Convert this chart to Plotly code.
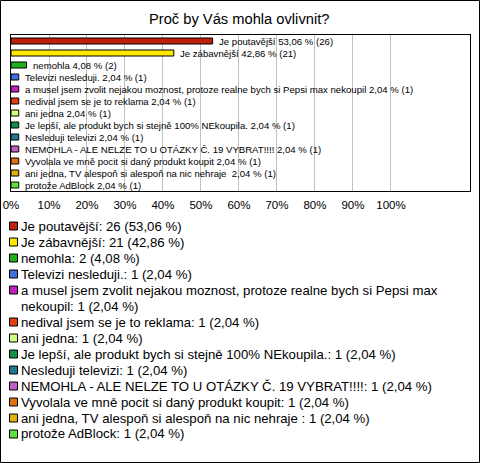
import textwrap
import plotly.graph_objects as go

title = "Proč by Vás mohla ovlivnit?"
categories = [
    "Je poutavější",
    "Je zábavnější",
    "nemohla",
    "Televizi nesleduji.",
    "a musel jsem zvolit nejakou moznost, protoze realne bych si Pepsi max nekoupil",
    "nedival jsem se je to reklama",
    "ani jedna",
    "Je lepší, ale produkt bych si stejně 100% NEkoupila.",
    "Nesleduji televizi",
    "NEMOHLA - ALE NELZE TO U OTÁZKY Č. 19 VYBRAT!!!!",
    "Vyvolala ve mně pocit si daný produkt koupit",
    "ani jedna, TV alespoň si alespoň na nic nehraje ",
    "protože AdBlock",
]
counts = [26, 21, 2, 1, 1, 1, 1, 1, 1, 1, 1, 1, 1]
respondents = 49
colors = [
    "#c0200a", "#ffe800", "#20b020", "#4070e0", "#c020c0", "#e04010",
    "#d0ff80", "#10904a", "#207890", "#c060c0", "#e07010", "#e0b010", "#60e040",
]
tick_vals = [0, 10, 20, 30, 40, 50, 60, 70, 80, 90, 100]
tick_text = [f"{v}%" for v in tick_vals]

pcts = [c / respondents * 100 for c in counts]


def fmt(p):
    return f"{p:.2f}".replace(".", ",")


bar_text = [f"{cat} {fmt(p)} % ({n})" for cat, p, n in zip(categories, pcts, counts)]
legend_text = [f"{cat}: {n} ({fmt(p)} %)" for cat, p, n in zip(categories, pcts, counts)]

FONT = "Arial"
W, H = 480, 463
L, R, T, B = 11, 470, 35, 191
pw, ph = R - L, B - T


def px_x(x):
    return (x - L) / pw


def px_y(y):
    return 1 - (y - T) / ph


fig = go.Figure()
fig.add_trace(go.Bar(
    y=list(range(len(categories))),
    x=pcts,
    orientation="h",
    width=0.5,
    marker=dict(color=colors, line=dict(color="black", width=1)),
    hoverinfo="skip",
))

shapes = [
    dict(type="rect", xref="paper", yref="paper",
         x0=px_x(0.5), x1=px_x(479.5), y0=px_y(462.5), y1=px_y(0.5),
         line=dict(color="black", width=1), fillcolor="rgba(0,0,0,0)", layer="above"),
]
annotations = []
for i, (txt, p) in enumerate(zip(bar_text, pcts)):
    annotations.append(dict(xref="x", yref="y", x=p, y=i, xanchor="left",
                            yanchor="middle", xshift=4, showarrow=False, text=txt,
                            font=dict(family=FONT, size=9.6, color="black")))

y = 226
for txt, col in zip(legend_text, colors):
    lines = textwrap.wrap(txt, width=70)
    shapes.append(dict(type="rect", xref="paper", yref="paper",
                       x0=px_x(9.5), x1=px_x(17.5), y0=px_y(y + 4), y1=px_y(y - 4),
                       line=dict(color="black", width=1), fillcolor=col))
    for ln in lines:
        annotations.append(dict(xref="paper", yref="paper", x=px_x(19), y=px_y(y),
                                xanchor="left", yanchor="middle", showarrow=False,
                                text=ln,
                                font=dict(family=FONT, size=13.2, color="black")))
        y += 16

annotations.append(dict(xref="paper", yref="paper", x=px_x(239), y=px_y(19),
                        xanchor="center", yanchor="middle", showarrow=False,
                        text=title,
                        font=dict(family=FONT, size=14.7, color="black")))

fig.update_layout(
    width=W, height=H,
    margin=dict(l=L, r=W - R, t=T, b=H - B, pad=0, autoexpand=False),
    paper_bgcolor="white", plot_bgcolor="white",
    showlegend=False,
    shapes=shapes,
    annotations=annotations,
    xaxis=dict(range=[0, 120.8], tickvals=tick_vals, ticktext=tick_text,
               showgrid=True, gridcolor="#c0c0c0", gridwidth=1, automargin=False,
               zeroline=False, showline=True, linecolor="black", linewidth=1,
               mirror=True, ticks="", ticklabelstandoff=3,
               tickfont=dict(family=FONT, size=11.5, color="black")),
    yaxis=dict(range=[len(categories) - 0.5, -0.5], showticklabels=False,
               showgrid=False, zeroline=False, showline=True, linecolor="black",
               linewidth=1, mirror=True, ticks="", automargin=False),
)

fig.write_html("out.html", config={"displayModeBar": False},
               post_script="document.body.style.margin='0';")
